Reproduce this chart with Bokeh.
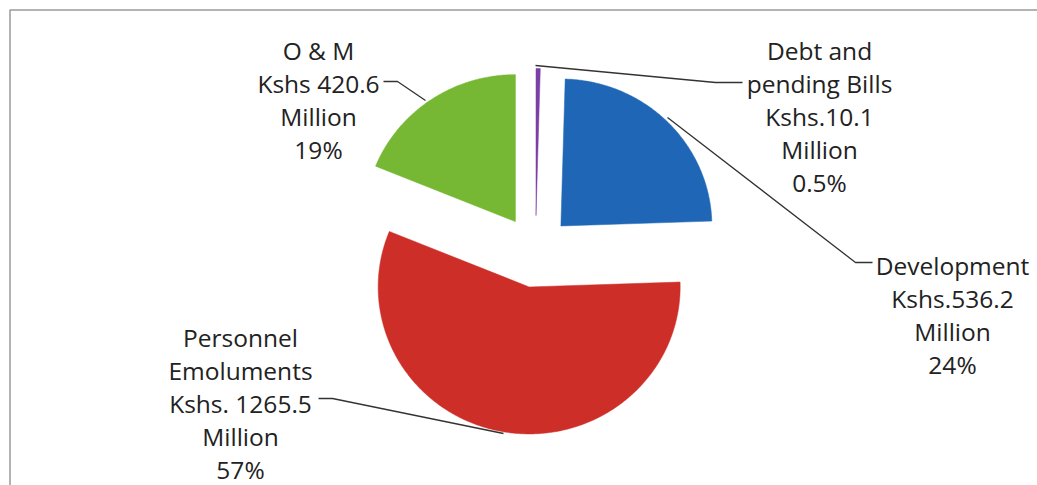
import numpy as np
from bokeh.plotting import figure
from bokeh.models import Range1d
from bokeh.core.properties import value
from bokeh.embed import file_html
from bokeh.resources import INLINE

# ---- data ----
categories = ["Debt and pending Bills", "Development", "Personnel Emoluments", "O & M"]
amounts = [10.1, 536.2, 1265.5, 420.6]          # Kshs million
colors = ["#7B3FA6", "#1F66B6", "#CE2E28", "#76B833"]
label_lines = [
    ["Debt and", "pending Bills", "Kshs.10.1", "Million", "0.5%"],
    ["Development", "Kshs.536.2", "Million", "24%"],
    ["Personnel", "Emoluments", "Kshs. 1265.5", "Million", "57%"],
    ["O & M", "Kshs 420.6", "Million", "19%"],
]

# ---- layout (page pixel space) ----
W, H = 1037, 485
p = figure(width=W, height=H, output_backend="svg", toolbar_location=None,
           x_range=Range1d(0, W), y_range=Range1d(H, 0),
           min_border=0)
p.axis.visible = False
p.grid.visible = False
p.outline_line_color = None
p.background_fill_color = "white"

cx, cy, rx, ry, explode = 535.0, 251.0, 151.0, 147.0, 36.0
total = sum(amounts)
fracs = np.array(amounts) / total
ends = np.cumsum(fracs) * 2 * np.pi
starts = ends - fracs * 2 * np.pi

xs, ys = [], []
for a0, a1 in zip(starts, ends):
    mid = 0.5 * (a0 + a1)
    ax = cx + explode * np.sin(mid)
    ay = cy - explode * np.cos(mid)
    t = np.linspace(a0, a1, max(4, int(np.degrees(a1 - a0) * 2)))
    xs.append([ax] + list(ax + rx * np.sin(t)) + [ax])
    ys.append([ay] + list(ay - ry * np.cos(t)) + [ay])
p.patches(xs, ys, fill_color=colors, line_color=colors, line_width=0.5)

# border of the chart area (top and left visible)
p.line([9.5, 9.5, W], [H, 9.5, 9.5], line_color="#9a9a9a", line_width=1.5)

# leader lines
leaders_x = [[535, 715, 742], [667, 855, 872], [318, 332, 503], [383, 397, 425]]
leaders_y = [[65, 82, 82], [117, 262, 262], [398, 398, 433], [81, 81, 100]]
p.multi_line(leaders_x, leaders_y, line_color="#333333", line_width=1.3)

# labels
label_cx = [819, 952, 240, 318]
label_y0 = [50, 265, 337, 50]
step = 33
tx, ty, tt = [], [], []
for lines, x0, y0 in zip(label_lines, label_cx, label_y0):
    for i, s in enumerate(lines):
        tx.append(x0)
        ty.append(y0 + i * step)
        tt.append(s)
p.text(tx, ty, text=tt, text_align="center", text_baseline="alphabetic",
       text_font=value("Open Sans"), text_font_size="24.5px", text_color="#222222")

open("out.html", "w").write(file_html(p, INLINE))
